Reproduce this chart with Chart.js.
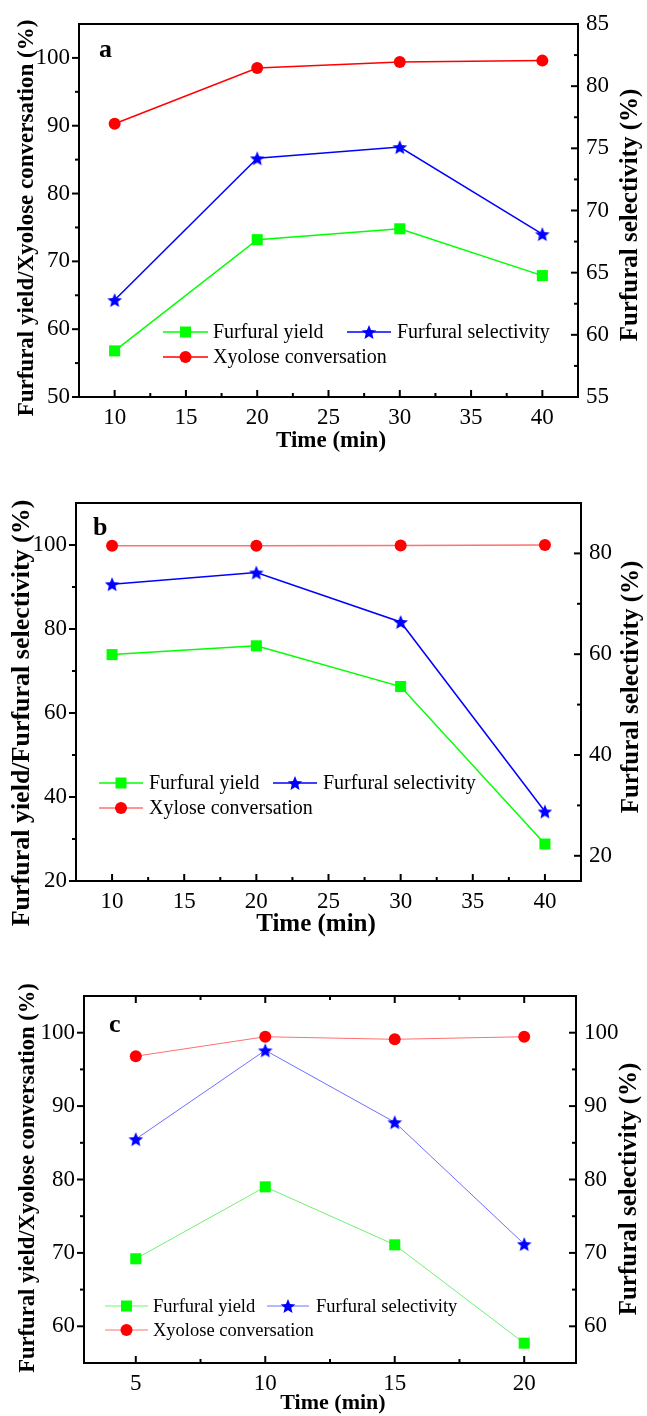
<!DOCTYPE html>
<html><head><meta charset="utf-8">
<script src="https://cdn.jsdelivr.net/npm/chart.js@4.4.1/dist/chart.umd.min.js"></script>
<style>
html,body{margin:0;padding:0;background:#fff;}
body{width:647px;height:1416px;position:relative;overflow:hidden;}
canvas{position:absolute;left:0;}
</style></head><body>
<canvas id="ca" width="647" height="460" style="top:0;width:647px;height:460px"></canvas>
<canvas id="cb" width="647" height="480" style="top:460px;width:647px;height:480px"></canvas>
<canvas id="cc" width="647" height="476" style="top:940px;width:647px;height:476px"></canvas>
<script>
// ---------- data ----------
const timeA = [10, 20, 30, 40];
const yieldA = [56.8, 73.2, 74.8, 67.9];
const convA = [90.3, 98.5, 99.4, 99.6];
const selA = [62.8, 74.2, 75.1, 68.1];

const timeB = [10, 20, 30, 40];
const yieldB = [73.9, 76.0, 66.3, 28.8];
const convB = [99.8, 99.8, 99.9, 100.0];
const selB = [73.9, 76.2, 66.4, 28.8];

const timeC = [5, 10, 15, 20];
const yieldC = [69.2, 79.0, 71.1, 57.7];
const convC = [96.8, 99.45, 99.1, 99.45];
const selC = [85.5, 97.6, 87.8, 71.2];

// tick labels
const xTicksAB = [10, 15, 20, 25, 30, 35, 40];
const xMinorAB = [12.5, 17.5, 22.5, 27.5, 32.5, 37.5];
const yTicksA = [50, 60, 70, 80, 90, 100];
const yMinorA = [55, 65, 75, 85, 95];
const y2TicksA = [55, 60, 65, 70, 75, 80, 85];
const y2MinorA = [57.5, 62.5, 67.5, 72.5, 77.5, 82.5];
const yTicksB = [20, 40, 60, 80, 100];
const yMinorB = [30, 50, 70, 90];
const y2TicksB = [20, 40, 60, 80];
const y2MinorB = [30, 50, 70];
const xTicksC = [5, 10, 15, 20];
const xMinorC = [7.5, 12.5, 17.5];
const yTicksC = [60, 70, 80, 90, 100];
const yMinorC = [65, 75, 85, 95];

const names = ['Furfural yield', 'Furfural selectivity', 'Xyolose conversation', 'Xylose conversation'];

// ---------- helpers ----------
const SERIF = "'Liberation Serif','Times New Roman',serif";
function makeStar(color, size) {
  const c = document.createElement('canvas');
  c.width = size; c.height = size;
  const ctx = c.getContext('2d');
  const R = size / 2 - 0.3, r = R * 0.45, cx = size / 2, cy = size / 2 + R * 0.1;
  ctx.fillStyle = color;
  ctx.beginPath();
  for (let i = 0; i < 10; i++) {
    const a = -Math.PI / 2 + i * Math.PI / 5;
    const rad = i % 2 ? r : R;
    const px = cx + rad * Math.cos(a), py = cy + rad * Math.sin(a);
    if (i === 0) ctx.moveTo(px, py); else ctx.lineTo(px, py);
  }
  ctx.closePath();
  ctx.fill();
  return c;
}
const STAR = makeStar('#0000ff', 16);

function pts(xs, ys) { return xs.map((x, i) => ({ x: x, y: ys[i] })); }

function ds(label, xs, ys, axis, kind, lineColor, lw) {
  const mcol = kind === 'rect' ? '#00ff00' : kind === 'circle' ? '#ff0000' : '#0000ff';
  return {
    label: label, data: pts(xs, ys), yAxisID: axis,
    borderColor: lineColor, backgroundColor: mcol, borderWidth: lw,
    pointStyle: kind === 'star' ? STAR : kind,
    pointRadius: kind === 'rect' ? 7.8 : 6,
    pointBackgroundColor: mcol, pointBorderColor: mcol, pointBorderWidth: 0,
    tension: 0, clip: false, _kind: kind
  };
}

function axisOpts(min, max, ticks, pos, size, padding) {
  return {
    type: 'linear', position: pos, min: min, max: max,
    afterBuildTicks: s => { s.ticks = ticks.map(v => ({ value: v })); },
    afterFit: s => { if (pos === 'bottom') s.height = size; else s.width = size; },
    grid: { display: false, drawTicks: false },
    border: { display: false },
    ticks: { font: { family: SERIF, size: 23 }, color: '#000', padding: padding, maxRotation: 0, autoSkip: false }
  };
}

function deco(spec) {
  return {
    id: 'deco',
    afterDraw(chart) {
      const ctx = chart.ctx, a = chart.chartArea;
      ctx.save();
      ctx.strokeStyle = '#000';
      ctx.lineWidth = 2;
      ctx.strokeRect(a.left, a.top, a.right - a.left, a.bottom - a.top);
      // ticks
      spec.ticks.forEach(t => {
        const sc = chart.scales[t.scale];
        const draw = (v, len) => {
          const p = sc.getPixelForValue(v);
          ctx.beginPath();
          if (t.edge === 'left') { ctx.moveTo(a.left, p); ctx.lineTo(a.left - t.dir * len, p); }
          else if (t.edge === 'right') { ctx.moveTo(a.right, p); ctx.lineTo(a.right + t.dir * len, p); }
          else if (t.edge === 'bottom') { ctx.moveTo(p, a.bottom); ctx.lineTo(p, a.bottom + t.dir * len); }
          else { ctx.moveTo(p, a.top); ctx.lineTo(p, a.top - t.dir * len); }
          ctx.stroke();
        };
        t.major.forEach(v => draw(v, 7));
        t.minor.forEach(v => draw(v, 4));
      });
      ctx.fillStyle = '#000';
      // titles
      spec.titles.forEach(tt => {
        ctx.save();
        ctx.font = 'bold ' + tt.size + 'px ' + SERIF;
        ctx.textAlign = 'center'; ctx.textBaseline = 'middle';
        ctx.translate(tt.x, tt.y);
        if (tt.rot) ctx.rotate(-Math.PI / 2);
        ctx.fillText(tt.text, 0, 0);
        ctx.restore();
      });
      // panel letter
      ctx.font = 'bold 26px ' + SERIF;
      ctx.textAlign = 'left'; ctx.textBaseline = 'alphabetic';
      ctx.fillText(spec.letter.text, spec.letter.x, spec.letter.y);
      // legend
      ctx.font = spec.legend.size + 'px ' + SERIF;
      ctx.textBaseline = 'middle';
      spec.legend.items.forEach(it => {
        const d = chart.data.datasets[it.ds];
        ctx.strokeStyle = d.borderColor;
        ctx.lineWidth = d.borderWidth;
        ctx.beginPath(); ctx.moveTo(it.x1, it.y); ctx.lineTo(it.x2, it.y); ctx.stroke();
        const m = (it.x1 + it.x2) / 2;
        ctx.fillStyle = d.pointBackgroundColor;
        if (d._kind === 'rect') ctx.fillRect(m - 5.5, it.y - 5.5, 11, 11);
        else if (d._kind === 'circle') { ctx.beginPath(); ctx.arc(m, it.y, 6, 0, Math.PI * 2); ctx.fill(); }
        else ctx.drawImage(STAR, m - STAR.width / 2, it.y - STAR.height / 2);
        ctx.fillStyle = '#000';
        ctx.fillText(d.label, it.tx, it.y + 1);
      });
      ctx.restore();
    }
  };
}

function build(id, datasets, scales, padTop, spec) {
  return new Chart(document.getElementById(id), {
    type: 'line',
    data: { datasets: datasets },
    options: {
      responsive: false, animation: false, maintainAspectRatio: false,
      layout: { padding: { top: padTop, left: 0, right: 0, bottom: 0 } },
      plugins: { legend: { display: false }, tooltip: { enabled: false } },
      scales: scales
    },
    plugins: [deco(spec)]
  });
}

// ---------- panel a ----------
build('ca', [
  ds(names[0], timeA, yieldA, 'y', 'rect', '#00ff00', 1.5),
  ds(names[1], timeA, selA, 'y2', 'star', '#0000ff', 1.5),
  ds(names[2], timeA, convA, 'y', 'circle', '#ff0000', 1.5)
], {
  x: axisOpts(7.5, 42.5, xTicksAB, 'bottom', 63, 7),
  y: axisOpts(50, 105, yTicksA, 'left', 79, 9),
  y2: axisOpts(55, 85, y2TicksA, 'right', 69, 8)
}, 24, {
  ticks: [
    { scale: 'x', edge: 'bottom', dir: -1, major: xTicksAB, minor: xMinorAB },
    { scale: 'y', edge: 'left', dir: 1, major: yTicksA, minor: yMinorA },
    { scale: 'y2', edge: 'right', dir: -1, major: y2TicksA, minor: y2MinorA }
  ],
  titles: [
    { text: 'Furfural yield/Xyolose conversation (%)', x: 27, y: 218, size: 23, rot: true },
    { text: 'Furfural selectivity (%)', x: 631, y: 215, size: 25, rot: true },
    { text: 'Time (min)', x: 331, y: 441, size: 23, rot: false }
  ],
  letter: { text: 'a', x: 99, y: 57 },
  legend: { size: 20, items: [
    { ds: 0, x1: 163, x2: 208, tx: 213, y: 332 },
    { ds: 1, x1: 347, x2: 391, tx: 397, y: 332 },
    { ds: 2, x1: 163, x2: 208, tx: 213, y: 357 }
  ] }
});

// ---------- panel b ----------
build('cb', [
  ds(names[0], timeB, yieldB, 'y', 'rect', '#00ff00', 1.5),
  ds(names[1], timeB, selB, 'y2', 'star', '#0000ff', 1.5),
  ds(names[3], timeB, convB, 'y', 'circle', '#ff7070', 1.5)
], {
  x: axisOpts(7.5, 42.5, xTicksAB, 'bottom', 59, 7),
  y: axisOpts(20, 110, yTicksB, 'left', 76, 9),
  y2: axisOpts(15, 90, y2TicksB, 'right', 66, 8)
}, 43, {
  ticks: [
    { scale: 'x', edge: 'bottom', dir: -1, major: xTicksAB, minor: xMinorAB },
    { scale: 'y', edge: 'left', dir: 1, major: yTicksB, minor: yMinorB },
    { scale: 'y2', edge: 'right', dir: -1, major: y2TicksB, minor: y2MinorB }
  ],
  titles: [
    { text: 'Furfural yield/Furfural selectivity (%)', x: 22, y: 253, size: 26, rot: true },
    { text: 'Furfural selectivity (%)', x: 632, y: 227, size: 25, rot: true },
    { text: 'Time (min)', x: 316, y: 465, size: 25, rot: false }
  ],
  letter: { text: 'b', x: 93, y: 75 },
  legend: { size: 20, items: [
    { ds: 0, x1: 99, x2: 143, tx: 149, y: 323 },
    { ds: 1, x1: 273, x2: 317, tx: 323, y: 323 },
    { ds: 2, x1: 99, x2: 143, tx: 149, y: 348 }
  ] }
});

// ---------- panel c ----------
build('cc', [
  ds(names[0], timeC, yieldC, 'y', 'rect', '#70f070', 1),
  ds(names[1], timeC, selC, 'y2', 'star', '#6f6fff', 1),
  ds(names[2], timeC, convC, 'y', 'circle', '#ff6f6f', 1)
], {
  x: axisOpts(3, 22, xTicksC, 'bottom', 53, 7),
  y: axisOpts(55, 105, yTicksC, 'left', 84, 9),
  y2: axisOpts(55, 105, yTicksC, 'right', 71, 8)
}, 56, {
  ticks: [
    { scale: 'x', edge: 'bottom', dir: -1, major: xTicksC, minor: xMinorC },
    { scale: 'x', edge: 'top', dir: -1, major: xTicksC, minor: xMinorC },
    { scale: 'y', edge: 'left', dir: 1, major: yTicksC, minor: yMinorC },
    { scale: 'y2', edge: 'right', dir: -1, major: yTicksC, minor: yMinorC }
  ],
  titles: [
    { text: 'Furfural yield/Xyolose conversation (%)', x: 28, y: 238, size: 22.6, rot: true },
    { text: 'Furfural selectivity (%)', x: 630, y: 249, size: 25, rot: true },
    { text: 'Time (min)', x: 333, y: 463, size: 22, rot: false }
  ],
  letter: { text: 'c', x: 109, y: 92 },
  legend: { size: 18.5, items: [
    { ds: 0, x1: 105, x2: 148, tx: 153, y: 366 },
    { ds: 1, x1: 267, x2: 309, tx: 316, y: 366 },
    { ds: 2, x1: 105, x2: 148, tx: 153, y: 390 }
  ] }
});
</script>
</body></html>
